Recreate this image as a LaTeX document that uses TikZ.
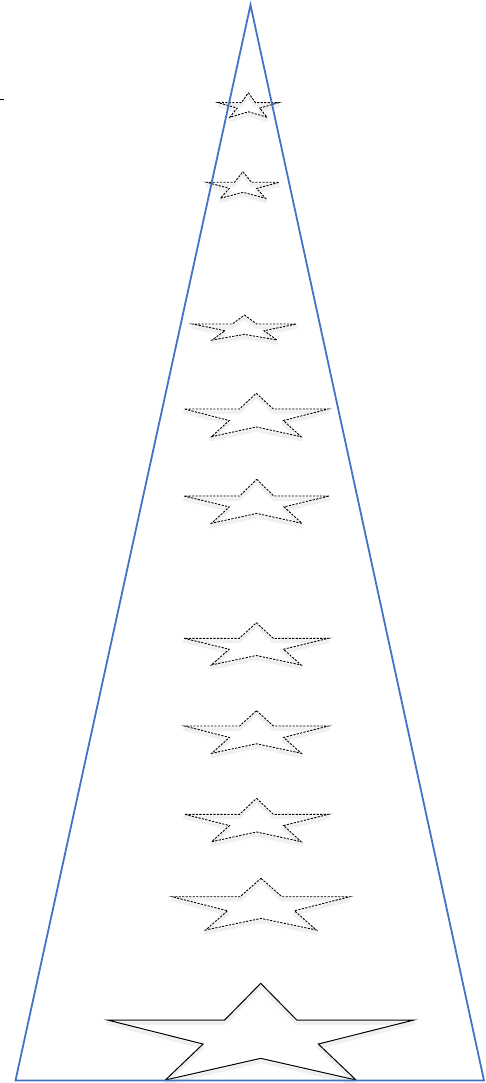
\documentclass[tikz,border=0pt]{standalone}
\usepackage{tikz}
\definecolor{triblue}{RGB}{68,114,196}
\tikzset{
  tri/.style={draw=triblue,line width=1.8pt,line join=miter},
  dstar/.style={draw=black,line width=0.9pt,dash pattern=on 2.2pt off 1.3pt},
  sstar/.style={draw=black,line width=1pt,line join=miter},
  starshadow/.style={draw=black!25,line width=3.5pt,opacity=0.22,line join=round},
}
% #1 cx, #2 top y, #3 half width, #4 shoulder y, #5 bottom y
\newcommand\mystarpath[5]{%
  (#1,#2) -- ({#1+0.235*#3},#4) -- ({#1+#3},#4)
  -- ({#1+0.376*#3},{#2+0.628*(#5-#2)}) -- ({#1+0.622*#3},#5)
  -- (#1,{#2+0.776*(#5-#2)}) -- ({#1-0.622*#3},#5)
  -- ({#1-0.376*#3},{#2+0.628*(#5-#2)}) -- ({#1-#3},#4)
  -- ({#1-0.235*#3},#4) -- cycle}
\newcommand\drawmystar[6]{%
  \draw[starshadow,yshift=-3pt] \mystarpath{#2}{#3}{#4}{#5}{#6};
  \draw[#1] \mystarpath{#2}{#3}{#4}{#5}{#6};}
\begin{document}
\begin{tikzpicture}[x=1pt,y=-1pt]
\useasboundingbox (0,0) rectangle (485,1083);
\fill[white] (0,0) rectangle (485,1083);
% tick at top left
\draw[black,line width=0.8pt] (0,99) -- (4,99);
% dashed stars
\drawmystar{dstar}{248.4}{92.7}{30}{102.7}{117.3}
\drawmystar{dstar}{243}{171.7}{36.3}{182.3}{198.3}
\drawmystar{dstar}{244.5}{315}{52}{324}{340}
\drawmystar{dstar}{256.3}{393.3}{72}{409}{436.7}
\drawmystar{dstar}{256.7}{479.3}{72.7}{496}{523.3}
\drawmystar{dstar}{256.3}{622.7}{72.2}{638.3}{665}
\drawmystar{dstar}{256.5}{710.7}{72}{726}{753.3}
\drawmystar{dstar}{256.5}{798.3}{72}{814.3}{841.7}
\drawmystar{dstar}{261}{878.3}{89}{896.7}{930}
% solid bottom star
\drawmystar{sstar}{260.7}{983.3}{153.3}{1020}{1080}
% triangle
\coordinate (apex) at (250.5,5);
\coordinate (bl) at (15.5,1080.5);
\coordinate (br) at (484,1080.5);
\draw[tri] (apex) -- (br) -- (bl) -- cycle;
\end{tikzpicture}
\end{document}
